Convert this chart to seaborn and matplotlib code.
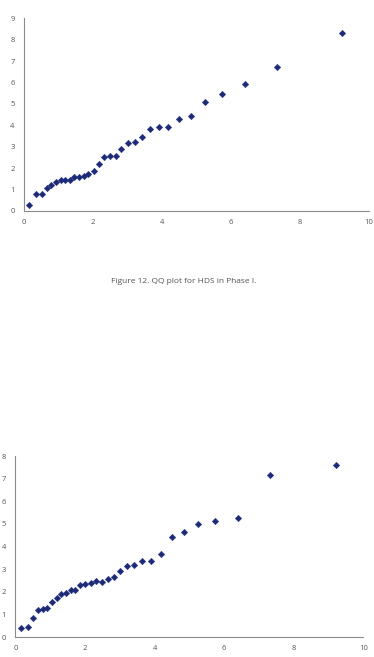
import pandas as pd
import seaborn as sns
import matplotlib
matplotlib.use("Agg")
import matplotlib.pyplot as plt

# theoretical quantiles (shared by both panels)
theoretical = [0.15, 0.35, 0.50, 0.65, 0.78, 0.92, 1.06, 1.18, 1.32, 1.45,
               1.59, 1.72, 1.86, 2.01, 2.16, 2.31, 2.48, 2.65, 2.82, 3.00,
               3.20, 3.42, 3.64, 3.90, 4.18, 4.49, 4.84, 5.25, 5.74, 6.40,
               7.33, 9.21]

# observed quantiles, Phase I
phase1 = [0.29, 0.78, 0.81, 1.09, 1.20, 1.37, 1.43, 1.43, 1.45, 1.57,
          1.60, 1.63, 1.73, 1.85, 2.18, 2.51, 2.55, 2.55, 2.88, 3.16,
          3.22, 3.46, 3.83, 3.94, 3.94, 4.31, 4.44, 5.11, 5.47, 5.95,
          6.71, 8.30]

# observed quantiles, second panel
phase2 = [0.40, 0.46, 0.83, 1.19, 1.22, 1.30, 1.56, 1.73, 1.92, 1.93,
          2.08, 2.09, 2.30, 2.33, 2.39, 2.46, 2.45, 2.58, 2.64, 2.92,
          3.16, 3.20, 3.35, 3.38, 3.66, 4.42, 4.65, 4.99, 5.13, 5.27,
          7.14, 7.60]

caption = "Figure 12. QQ plot for HDS in Phase I."

sns.set_style("white")
plt.rcParams['font.family'] = ['Open Sans', 'DejaVu Sans']

fig = plt.figure(figsize=(3.74, 6.57), dpi=100)
ax1 = fig.add_axes([0.065, 0.679, 0.921, 0.293])
ax2 = fig.add_axes([0.0414, 0.0304, 0.930, 0.2755])

df1 = pd.DataFrame({"x": theoretical, "y": phase1})
df2 = pd.DataFrame({"x": theoretical, "y": phase2})

for ax, df, ymax in [(ax1, df1, 9), (ax2, df2, 8)]:
    sns.scatterplot(data=df, x="x", y="y", ax=ax, marker="D", s=11,
                    color="#1c2a78", edgecolor="#1c2a78", linewidth=0.3)
    ax.set_xlim(0, 10)
    ax.set_ylim(0, ymax)
    ax.set_xticks(range(0, 11, 2))
    ax.set_yticks(range(0, ymax + 1))
    ax.set_xlabel("")
    ax.set_ylabel("")
    for s in ["top", "right"]:
        ax.spines[s].set_visible(False)
    for s in ["left", "bottom"]:
        ax.spines[s].set_color("#8c8c8c")
        ax.spines[s].set_linewidth(0.8)
    ax.tick_params(direction="in", length=3, width=0.6, color="#8c8c8c",
                   labelsize=5.5, labelcolor="#555555", pad=6)
    ax.tick_params(axis="y", pad=7)

fig.text(0.49, 0.571, caption, ha="center", va="center", fontsize=6, color="#555555")

fig.savefig("out.png", dpi=100)
